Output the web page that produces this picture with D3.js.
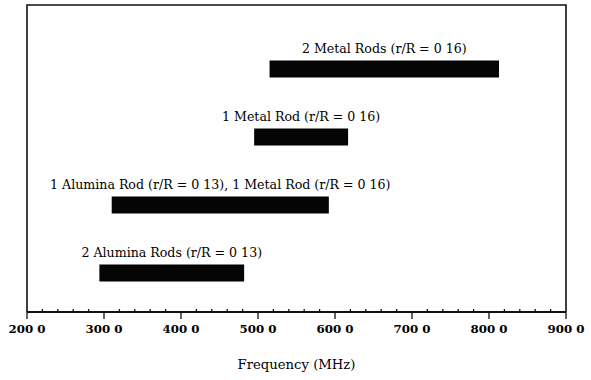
<!DOCTYPE html>
<html>
<head>
<meta charset="utf-8">
<script src="https://cdn.jsdelivr.net/npm/d3@7"></script>
<style>
  html, body { margin: 0; padding: 0; background: #fff; }
  svg { display: block; }
  text { font-family: "DejaVu Serif", "Liberation Serif", serif; fill: #000; }
</style>
</head>
<body>
<svg id="chart" width="591" height="380"></svg>
<script>
// Rod configurations and the frequency range each one covers (MHz)
const configs = [
  "2 Metal Rods (r/R = 0 16)",
  "1 Metal Rod (r/R = 0 16)",
  "1 Alumina Rod (r/R = 0 13), 1 Metal Rod (r/R = 0 16)",
  "2 Alumina Rods (r/R = 0 13)"
];
const rangeStart = [515, 495, 310, 294];
const rangeEnd   = [813, 617, 592, 482];

const majorTicks = [200, 300, 400, 500, 600, 700, 800, 900];
const majorLabels = ["200 0", "300 0", "400 0", "500 0", "600 0", "700 0", "800 0", "900 0"];
const minorTicks = d3.range(220, 900, 20).filter(v => v % 100 !== 0);
const xTitle = "Frequency (MHz)";

const svg = d3.select("#chart");
const plotL = 27, plotR = 566, plotT = 5, plotB = 312;

const x = d3.scaleLinear().domain([200, 900]).range([plotL, plotR]);
const y = d3.scaleBand().domain(configs).range([35, 307]).paddingInner(0.75).paddingOuter(0.375);

// frame (left, top, right sides)
svg.append("path")
  .attr("d", `M${plotL},${plotB} V${plotT} H${plotR} V${plotB}`)
  .attr("fill", "none").attr("stroke", "#111").attr("stroke-width", 1.6);

// bars
const rows = configs.map((c, i) => ({ c, s: rangeStart[i], e: rangeEnd[i] }));
svg.selectAll("rect.bar").data(rows).join("rect")
  .attr("class", "bar")
  .attr("x", d => x(d.s))
  .attr("width", d => x(d.e) - x(d.s))
  .attr("y", d => y(d.c))
  .attr("height", y.bandwidth())
  .attr("fill", "#050505");

// bar labels, centred over each bar
svg.selectAll("text.lbl").data(rows).join("text")
  .attr("class", "lbl")
  .attr("x", d => (x(d.s) + x(d.e)) / 2)
  .attr("y", d => y(d.c) - 8)
  .attr("text-anchor", "middle")
  .attr("font-size", 12.6)
  .text(d => d.c);

// x axis: major ticks below, minor ticks above
const axis = svg.append("g").attr("transform", `translate(0,${plotB})`);
axis.append("line").attr("x1", plotL).attr("x2", plotR)
  .attr("stroke", "#111").attr("stroke-width", 2);
axis.selectAll("line.maj").data(majorTicks).join("line")
  .attr("class", "maj")
  .attr("x1", d => x(d)).attr("x2", d => x(d))
  .attr("y1", 0).attr("y2", 7)
  .attr("stroke", "#111").attr("stroke-width", 1.3);
axis.selectAll("line.min").data(minorTicks).join("line")
  .attr("class", "min")
  .attr("x1", d => x(d)).attr("x2", d => x(d))
  .attr("y1", 0).attr("y2", -3)
  .attr("stroke", "#111").attr("stroke-width", 1.3);
axis.selectAll("text.tl").data(majorTicks).join("text")
  .attr("class", "tl")
  .attr("x", d => x(d))
  .attr("y", 21)
  .attr("text-anchor", "middle")
  .attr("font-size", 11.8)
  .attr("font-weight", "bold")
  .text((d, i) => majorLabels[i]);

svg.append("text")
  .attr("x", (plotL + plotR) / 2)
  .attr("y", 369)
  .attr("text-anchor", "middle")
  .attr("font-size", 13.2)
  .text(xTitle);
</script>
</body>
</html>
